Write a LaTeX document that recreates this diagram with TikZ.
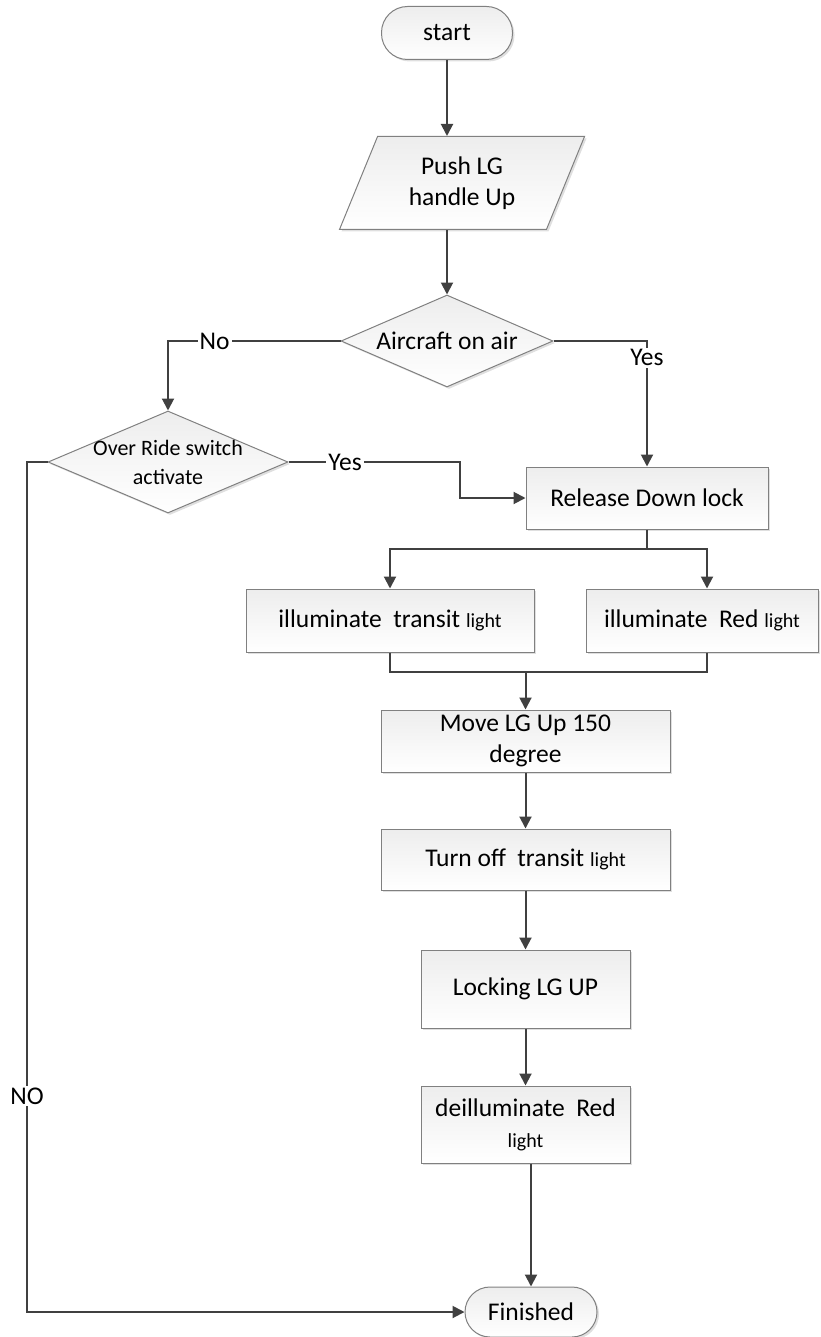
\documentclass[tikz,border=0pt]{standalone}
\usepackage{fontspec}
\setmainfont{Carlito}
\usepackage{xcolor}
\definecolor{LineGray}{RGB}{64,64,64}
\definecolor{EdgeGray}{RGB}{128,128,128}
\usepackage{tikz}
\usetikzlibrary{positioning, arrows.meta, shapes.geometric, shadows}

\newcommand{\smalltxt}[1]{{\fontsize{10}{12}\selectfont #1}}

\begin{document}
\begin{tikzpicture}[x=0.5pt, y=-0.5pt,
  every node/.style={font=\fontsize{12.75}{15.5}\selectfont},
  flowbox/.style={rectangle, draw=EdgeGray, line width=0.5pt, top color=black!7, bottom color=white,
    drop shadow={shadow xshift=1pt, shadow yshift=-1pt, opacity=0.25, fill=black!50}, align=center, inner sep=2pt},
  term/.style={flowbox, rounded corners=13pt, minimum width=65.5pt, minimum height=26.5pt},
  io/.style={flowbox, trapezium, trapezium left angle=67, trapezium right angle=113, trapezium stretches=true,
    minimum width=123pt, minimum height=46.5pt},
  decision/.style={flowbox, diamond},
  line/.style={draw=LineGray, line width=1pt, -{Triangle[length=6pt, width=6pt]}},
  plain/.style={draw=LineGray, line width=1pt},
  lbl/.style={fill=white, inner sep=1pt}]
\useasboundingbox (0,0) rectangle (820,1337);

			% Bloques / Shapes
			\node[term] (start) at (447,33) {start};
			\node[io] (push) at (462,183) {Push LG\\handle Up};
			\node[decision, minimum width=106pt, minimum height=46pt, shape aspect=2.3, inner sep=0pt] (air) at (447,341) {Aircraft on air};
			\node[decision, minimum width=120pt, minimum height=51pt, shape aspect=2.35, inner sep=-2pt, font=\fontsize{11}{14.5}\selectfont] (over) at (168,462) {Over Ride switch\\activate};
			\node[flowbox, minimum width=121pt, minimum height=31pt] (rel) at (647,498) {Release Down lock};
			\node[flowbox, minimum width=144pt, minimum height=31.5pt] (trans) at (390,620.5) {illuminate~ transit \smalltxt{light}};
			\node[flowbox, minimum width=116pt, minimum height=31.5pt] (red) at (702,620.5) {illuminate~ Red \smalltxt{light}};
			\node[flowbox, minimum width=144.5pt, minimum height=31pt] (move) at (525.5,741) {Move LG Up 150\\degree};
			\node[flowbox, minimum width=144.5pt, minimum height=30.5pt] (off) at (525.5,859.5) {Turn off~ transit \smalltxt{light}};
			\node[flowbox, minimum width=104.5pt, minimum height=39pt] (lock) at (525.5,989) {Locking LG UP};
			\node[flowbox, minimum width=104.5pt, minimum height=38.5pt] (deil) at (525.5,1124.5) {deilluminate~ Red\\\smalltxt{light}};
			\node[term, minimum width=66pt, minimum height=25pt, rounded corners=12.5pt] (fin) at (531,1312) {Finished};

			% Puntos de quiebre / Bends
			\coordinate (split) at (647,549);
			\coordinate (merge) at (525.5,672);
			\coordinate (nox) at (27,0);
			\coordinate (ybend) at (460,0);

			% Conectores / Connectors
			\draw[line] (start.south) -- (start.south |- push.north);
			\draw[line] (air.north |- push.south) -- (air.north);
			\draw[line] (air.west) -- node[lbl, pos=0.73]{No} (air.west -| over.north) -- (over.north);
			\draw[line] (air.east) -| node[lbl, pos=0.567]{Yes} (rel.north);
			\draw[line] (over.east) -- node[lbl, pos=0.33]{Yes} (over.east -| ybend) |- (rel.west);
			\draw[line] (over.west) -| node[lbl, pos=0.873]{NO} (nox |- fin.west) -- (fin.west);
			\draw[line] (rel.south) -- (split) -| (trans.north);
			\draw[line] (split) -| ([xshift=2.5pt]red.north);
			\draw[plain] (trans.south) |- (merge);
			\draw[plain] ([xshift=2.5pt]red.south) |- (merge);
			\draw[line] (merge) -- (move.north);
			\draw[line] (move) -- (off);
			\draw[line] (off) -- (lock);
			\draw[line] (lock) -- (deil);
			\draw[line] (fin.north |- deil.south) -- (fin.north);
\end{tikzpicture}
\end{document}
